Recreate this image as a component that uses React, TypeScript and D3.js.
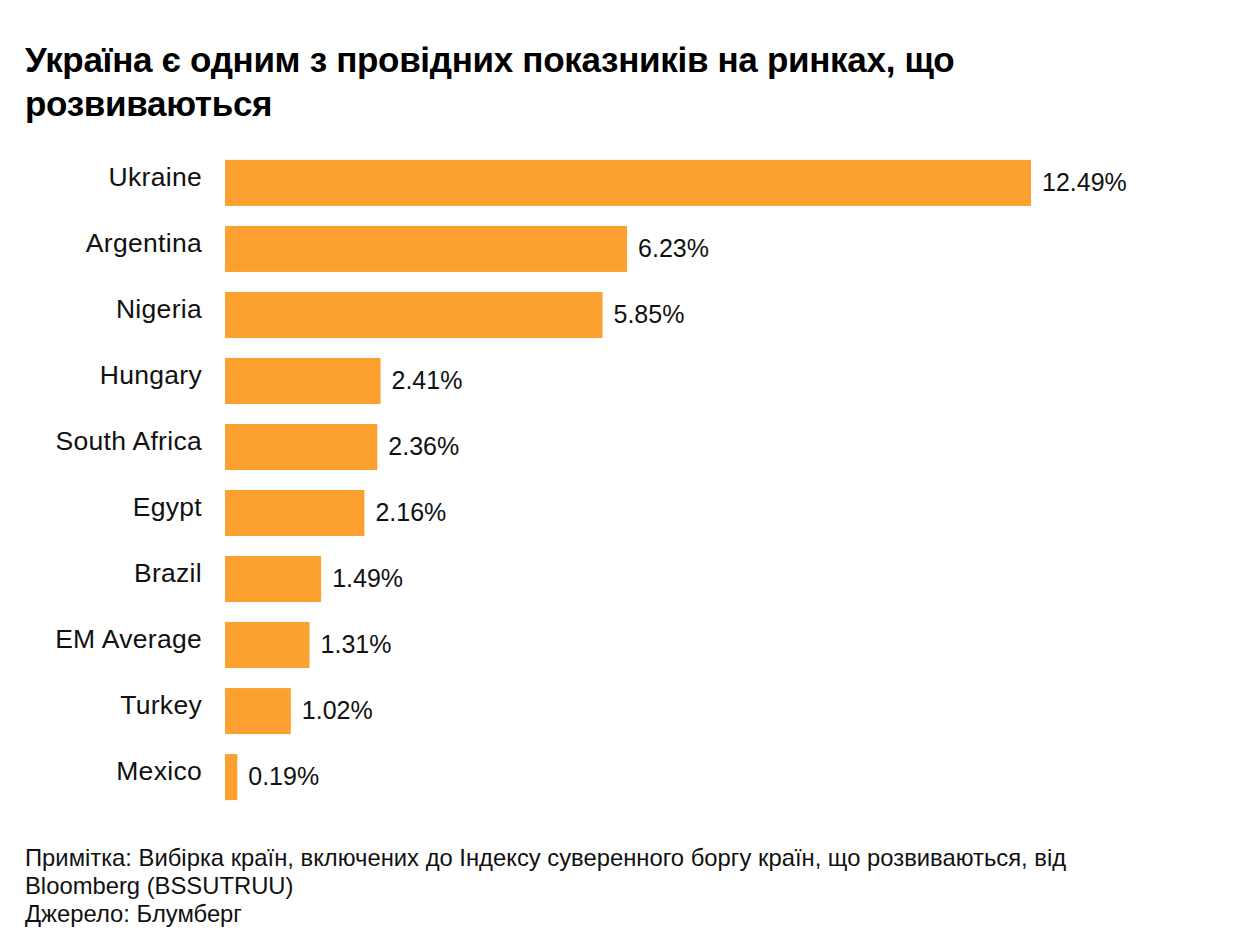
import React from 'react';
import * as d3 from 'd3';

const countries = ['Ukraine', 'Argentina', 'Nigeria', 'Hungary', 'South Africa', 'Egypt', 'Brazil', 'EM Average', 'Turkey', 'Mexico'];
const values = [12.49, 6.23, 5.85, 2.41, 2.36, 2.16, 1.49, 1.31, 1.02, 0.19];

const titleLines = ['Україна є одним з провідних показників на ринках, що', 'розвиваються'];
const footerLines = [
  'Примітка: Вибірка країн, включених до Індексу суверенного боргу країн, що розвиваються, від',
  'Bloomberg (BSSUTRUU)',
  'Джерело: Блумберг',
];

const W = 1234;
const H = 942;
const FONT = '"Liberation Sans", Arial, Helvetica, sans-serif';

export default function App() {
  React.useEffect(() => {
    document.body.style.margin = '0';
  }, []);

  const margin = { top: 150, left: 225 };
  const rows = countries.map((c, i) => ({ country: c, value: values[i] }));

  // 0..12.49 spans 225..1031
  const x = d3.scaleLinear().domain([0, 12.49]).range([0, 806]);
  const y = d3
    .scaleBand<string>()
    .domain(countries)
    .range([0, 660])
    .paddingInner(0.303)
    .paddingOuter(0.15);

  return (
    <svg width={W} height={H} style={{ display: 'block', background: '#fff' }} fontFamily={FONT}>
      <g>
        {titleLines.map((t, i) => (
          <text key={i} x={25} y={72 + i * 44} fontSize={35} fontWeight="bold" fill="#000" letterSpacing={-0.3}>
            {t}
          </text>
        ))}
      </g>
      <g transform={`translate(${margin.left},${margin.top})`}>
        {rows.map(d => {
          const by = y(d.country) ?? 0;
          const cy = by + y.bandwidth() / 2;
          return (
            <g key={d.country}>
              <rect x={0} y={by} width={x(d.value)} height={y.bandwidth()} fill="#FCA12F" />
              <text x={-23} y={cy + 3} textAnchor="end" fontSize={26.5} fill="#111" letterSpacing={0.3}>
                {d.country}
              </text>
              <text x={x(d.value) + 11} y={cy + 8} fontSize={25} fill="#111">
                {d.value.toFixed(2)}%
              </text>
            </g>
          );
        })}
      </g>
      <g>
        {footerLines.map((t, i) => (
          <text key={i} x={25} y={866 + i * 28} fontSize={23.8} fill="#111">
            {t}
          </text>
        ))}
      </g>
    </svg>
  );
}
